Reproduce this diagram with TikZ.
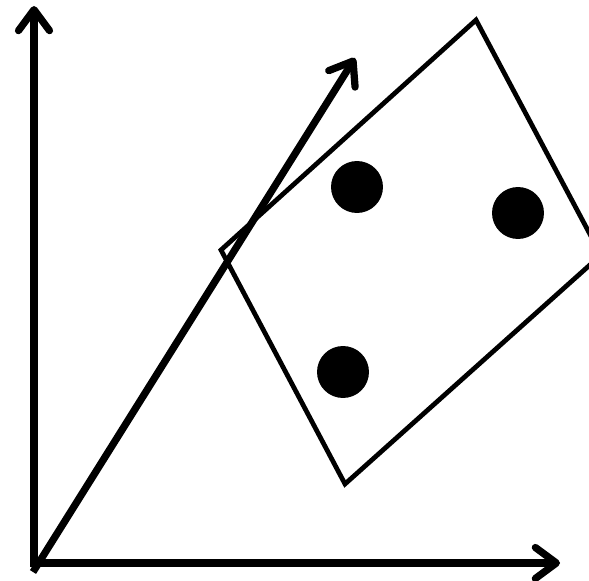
\documentclass[tikz,border=0pt]{standalone}
\usepackage{tikz}
\usetikzlibrary{arrows.meta}

\begin{document}
\begin{tikzpicture}[x=0.02cm, y=-0.02cm,
    asse/.style={line width=0.145cm, -{Straight Barb[length=0.42cm, width=0.62cm, round]}},
    dado/.style={line width=0.095cm, line join=miter},
    punto/.style={circle, fill=black, inner sep=0pt, minimum size=1.04cm}]
    \useasboundingbox (0,0) rectangle (589,581);
    \clip (0,0) rectangle (589,581);

    % Punti di riferimento
    \coordinate (O) at (34,563);
    \coordinate (Y) at (34,6);
    \coordinate (X) at (560,563);
    \coordinate (V0) at (33,572);
    \coordinate (V) at (355,58);

    % Assi
    \draw[asse] (34,567) -- (Y);
    \draw[asse] (31,563) -- (X);

    % Vettore diagonale
    \draw[asse] (V0) -- (V);

    % Rettangolo ruotato (esce dal bordo a destra)
    \coordinate (A) at (221,250);
    \coordinate (B) at (476,20);
    \coordinate (C) at (601,255);
    \coordinate (D) at (345,484);
    \draw[dado] (A) -- (B) -- (C) -- (D) -- cycle;

    % Punti del dado
    \node[punto] (p1) at (357,187) {};
    \node[punto] (p2) at (518,213) {};
    \node[punto] (p3) at (343,372) {};
\end{tikzpicture}
\end{document}
